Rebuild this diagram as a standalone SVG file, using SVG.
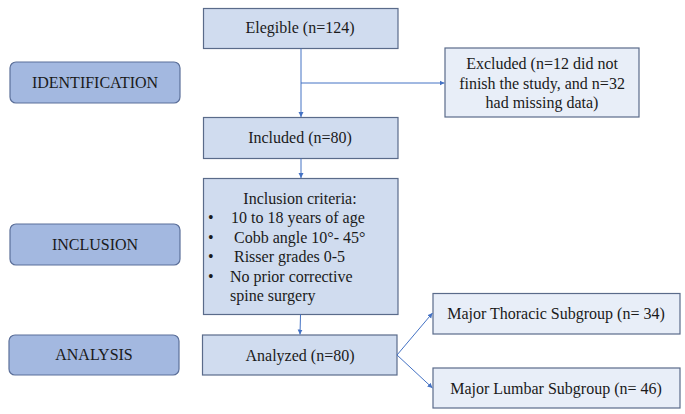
<svg xmlns="http://www.w3.org/2000/svg" width="685" height="414" viewBox="0 0 685 414">
<style>
text{font-family:"Liberation Serif","Times New Roman",serif;font-size:16px;fill:#1a1a1a}
.c{text-anchor:middle}
.box{fill:#d0dcef;stroke:#5a6b8a;stroke-width:1.2}
.lbox{fill:#e8eef8;stroke:#5a6b8a;stroke-width:1.2}
.side{fill:#a3b8e0;stroke:#5b6f99;stroke-width:1.2}
.con{stroke:#4472c4;stroke-width:1;fill:none}
</style>
<defs>
<marker id="ah" markerWidth="6" markerHeight="6" refX="5" refY="3" orient="auto" markerUnits="userSpaceOnUse">
<path d="M0,0.5 L5,3 L0,5.5 Z" fill="#4472c4"/>
</marker>
</defs>
<rect width="685" height="414" fill="#fff"/>
<g id="identification"><rect class="side" x="10" y="62" width="170" height="41" rx="6"/><text class="c" x="95" y="88">IDENTIFICATION</text></g>
<g id="inclusion"><rect class="side" x="10" y="224" width="170" height="41" rx="6"/><text class="c" x="95" y="250">INCLUSION</text></g>
<g id="analysis"><rect class="side" x="9" y="335" width="170" height="40" rx="6"/><text class="c" x="94" y="360">ANALYSIS</text></g>
<g id="elegible"><rect class="box" x="203.5" y="8.5" width="194.5" height="40"/><text class="c" x="300" y="33">Elegible (n=124)</text></g>
<g id="excluded"><rect class="lbox" x="445" y="48" width="194" height="69"/>
<text class="c" x="542" y="69">Excluded (n=12 did not</text>
<text class="c" x="542" y="89">finish the study, and n=32</text>
<text class="c" x="542" y="108">had missing data)</text></g>
<g id="included"><rect class="box" x="203.5" y="117.5" width="194.5" height="41"/><text class="c" x="300" y="143">Included (n=80)</text></g>
<g id="criteria"><rect class="box" x="203.5" y="178.5" width="194.5" height="136"/>
<text class="c" x="300" y="204">Inclusion criteria:</text>
<text x="208" y="223">•</text><text x="231" y="223">10 to 18 years of age</text>
<text x="208" y="243">•</text><text x="234" y="243">Cobb angle 10°- 45°</text>
<text x="208" y="262">•</text><text x="234" y="262">Risser grades 0-5</text>
<text x="208" y="282">•</text><text x="230" y="282">No prior corrective</text>
<text x="230" y="301">spine surgery</text></g>
<g id="analyzed"><rect class="box" x="202.5" y="335" width="194.5" height="40"/><text class="c" x="300" y="361">Analyzed (n=80)</text></g>
<g id="thoracic"><rect class="lbox" x="433" y="293.5" width="247" height="40.5"/><text class="c" x="556" y="319">Major Thoracic Subgroup (n= 34)</text></g>
<g id="lumbar"><rect class="lbox" x="433" y="368" width="247" height="40"/><text class="c" x="556" y="394">Major Lumbar Subgroup (n= 46)</text></g>
<g id="connectors">
<line class="con" x1="301" y1="48.5" x2="301" y2="117" marker-end="url(#ah)"/>
<line class="con" x1="301" y1="83" x2="444.5" y2="83" marker-end="url(#ah)"/>
<line class="con" x1="301" y1="158.5" x2="301" y2="178" marker-end="url(#ah)"/>
<line class="con" x1="300.5" y1="314.5" x2="300" y2="334.5" marker-end="url(#ah)"/>
<line class="con" x1="397" y1="355" x2="432.5" y2="313" marker-end="url(#ah)"/>
<line class="con" x1="397" y1="355" x2="432.5" y2="388" marker-end="url(#ah)"/>
</g>
</svg>
